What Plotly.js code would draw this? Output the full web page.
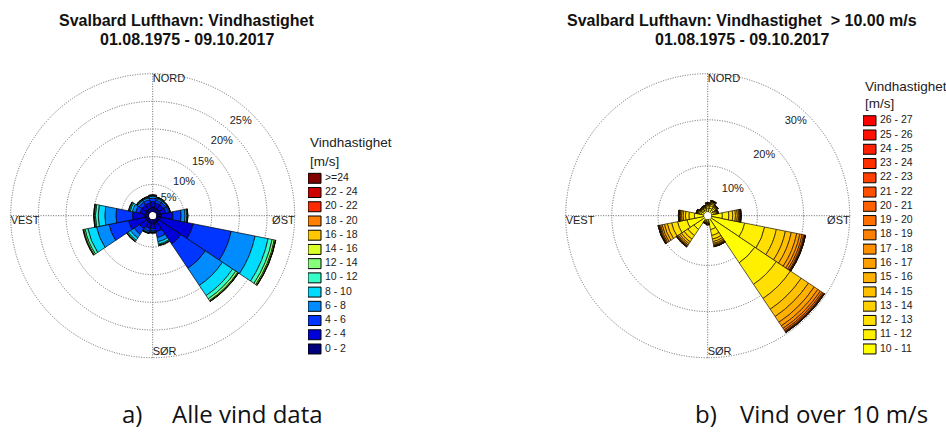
<!DOCTYPE html>
<html><head><meta charset="utf-8">
<script src="https://cdn.plot.ly/plotly-3.0.1.min.js"></script>
<style>html,body{margin:0;padding:0;background:#fff;} #chart{width:946px;height:434px;}</style>
</head><body><div id="chart"></div>
<script>
// ---------- shared ----------
const directions = ['N','NNE','NE','ENE','E','ESE','SE','SSE','S','SSW','SW','WSW','W','WNW','NW','NNW'];
const theta = [0,22.5,45,67.5,90,112.5,135,157.5,180,202.5,225,247.5,270,292.5,315,337.5];
const compassLabels = ['NORD','ØST','SØR','VEST'];
const compassTheta = [0,90,180,270];

// ---------- chart a: all wind (percent per direction, per speed class) ----------
const classesA = ['0 - 2','2 - 4','4 - 6','6 - 8','8 - 10','10 - 12','12 - 14','14 - 16','16 - 18','18 - 20','20 - 22','22 - 24','>=24'];
const colorsA  = ['#00007f','#0000d8','#0036ff','#008cff','#00dcff','#36ffc8','#86ff7a','#d8ff28','#ffc800','#ff8000','#ff2a00','#cc0000','#7f0000'];
const A_0_2   = [0.9,0.8,0.8,0.8,0.8,0.8,0.7,0.8,0.9,0.8,0.8,0.8,0.8,0.7,0.8,0.8];
const A_2_4   = [1.0,0.9,0.9,1.0,2.2,6.0,4.8,1.5,0.8,0.9,1.4,3.0,2.2,1.0,0.9,0.9];
const A_4_6   = [0.6,0.5,0.5,0.5,1.5,7.0,5.3,1.1,0.4,0.5,1.2,3.6,3.0,0.8,0.6,0.6];
const A_6_8   = [0.35,0.3,0.25,0.2,0.7,4.4,3.7,0.75,0.2,0.25,0.8,2.3,2.0,0.6,0.35,0.35];
const A_8_10  = [0.15,0.15,0.1,0.07,0.3,2.4,2.2,0.45,0.1,0.1,0.5,1.6,1.2,0.4,0.15,0.15];
const A_10_12 = [0.06,0.08,0.04,0.03,0.15,0.75,0.7,0.18,0.05,0.04,0.2,0.5,0.5,0.2,0.07,0.07];
const A_12_14 = [0.03,0.04,0.02,0.01,0.05,0.4,0.4,0.08,0.02,0.02,0.1,0.25,0.2,0.1,0.03,0.03];
const A_14_16 = [0.01,0.02,0.01,0,0.02,0.2,0.15,0.02,0.01,0.01,0.03,0.12,0.1,0.03,0.01,0.01];
const A_16_18 = [0,0,0,0,0,0.05,0.05,0,0,0,0,0.03,0.02,0,0,0];
const A_18_20 = [0,0,0,0,0,0.01,0.01,0,0,0,0,0,0,0,0,0];
const A_20_22 = [0,0,0,0,0,0,0,0,0,0,0,0,0,0,0,0];
const A_22_24 = [0,0,0,0,0,0,0,0,0,0,0,0,0,0,0,0];
const A_24up  = [0,0,0,0,0,0,0,0,0,0,0,0,0,0,0,0];
const seriesA = [A_0_2,A_2_4,A_4_6,A_6_8,A_8_10,A_10_12,A_12_14,A_14_16,A_16_18,A_18_20,A_20_22,A_22_24,A_24up];
const ringTicksA = [5,10,15,20,25];
const ringLabelsA = ['5%','10%','15%','20%','25%'];

// ---------- chart b: wind over 10 m/s ----------
const classesB = ['10 - 11','11 - 12','12 - 13','13 - 14','14 - 15','15 - 16','16 - 17','17 - 18','18 - 19','19 - 20','20 - 21','21 - 22','22 - 23','23 - 24','24 - 25','25 - 26','26 - 27'];
const colorsB  = ['#ffff00','#fff000','#ffe000','#ffd000','#ffc000','#ffb000','#ffa000','#ff9000','#ff8000','#ff7000','#ff6000','#ff5000','#ff4000','#ff3000','#ff2000','#ff1000','#ff0000'];
const B_10_11 = [0.75,0.9,0.7,0.6,2.4,7.4,11.5,2.3,0.45,0.4,2.8,3.8,2.1,0.65,0.5,0.55];
const B_11_12 = [0.42,0.55,0.42,0.35,1.4,4.4,5.6,1.3,0.26,0.22,1.6,2.1,1.2,0.38,0.3,0.32];
const B_12_13 = [0.27,0.35,0.28,0.22,0.85,2.6,3.7,0.8,0.16,0.13,0.95,1.3,0.75,0.25,0.19,0.2];
const B_13_14 = [0.19,0.25,0.2,0.15,0.6,2.0,2.8,0.55,0.11,0.09,0.7,0.95,0.5,0.17,0.13,0.14];
const B_14_15 = [0.13,0.18,0.14,0.1,0.4,1.3,1.9,0.4,0.08,0.06,0.45,0.65,0.35,0.12,0.1,0.1];
const B_15_16 = [0.1,0.13,0.1,0.07,0.3,1.2,1.5,0.28,0.06,0.04,0.35,0.5,0.25,0.09,0.07,0.07];
const B_16_17 = [0.06,0.09,0.07,0.05,0.2,0.7,0.95,0.18,0.04,0.03,0.22,0.35,0.17,0.06,0.05,0.05];
const B_17_18 = [0.04,0.06,0.04,0.03,0.13,0.5,0.65,0.12,0.02,0.02,0.14,0.24,0.11,0.04,0.03,0.03];
const B_18_19 = [0.02,0.04,0.02,0.02,0.09,0.35,0.45,0.07,0.01,0.01,0.09,0.14,0.07,0.02,0.02,0.02];
const B_19_20 = [0.01,0.02,0.02,0.01,0.06,0.2,0.3,0.05,0.01,0,0.05,0.09,0.05,0.01,0.01,0.01];
const B_20_21 = [0.01,0.02,0.01,0,0.04,0.1,0.17,0.03,0,0,0.03,0.05,0.03,0.01,0,0.01];
const B_21_22 = [0,0.01,0,0,0.02,0.05,0.1,0.02,0,0,0.02,0.02,0.02,0,0,0];
const B_22_23 = [0,0,0,0,0.01,0.03,0.05,0,0,0,0,0.01,0,0,0,0];
const B_23_24 = [0,0,0,0,0,0.01,0.02,0,0,0,0,0,0,0,0,0];
const B_24_25 = [0,0,0,0,0,0.01,0.01,0,0,0,0,0,0,0,0,0];
const B_25_26 = [0,0,0,0,0,0,0,0,0,0,0,0,0,0,0,0];
const B_26_27 = [0,0,0,0,0,0,0,0,0,0,0,0,0,0,0,0];
const seriesB = [B_10_11,B_11_12,B_12_13,B_13_14,B_14_15,B_15_16,B_16_17,B_17_18,B_18_19,B_19_20,B_20_21,B_21_22,B_22_23,B_23_24,B_24_25,B_25_26,B_26_27];
const ringTicksB = [10,20,30];
const ringLabelsB = ['10%','20%','30%'];

// ---------- build ----------
const FONT = 'Liberation Sans, Arial, sans-serif';
const W = 946, H = 434;
const px = x => x / W, py = y => (H - y) / H;
const RANGE_PAD = 1.012;      // lets the outermost ring be drawn as a grid circle
const R_OUT = 143.7;          // plot radius in px (outermost ring lands at ~142 px)

const traces = [];
function ringLabelTrace(sub, ticks, labels, offset) {
  return {type:'scatterpolar', subplot:sub, mode:'text', r: ticks.map((v, i) => v - (i === 0 && ticks.length > 3 ? offset * 0.6 : offset)),
    theta: ticks.map(() => 43), text: labels, textposition:'middle center',
    textfont:{family:FONT, size:11, color:'#222'}, cliponaxis:false, showlegend:false, hoverinfo:'skip'};
}
function compassTrace(sub, rmax) {
  return {type:'scatterpolar', subplot:sub, mode:'text', r: compassTheta.map(() => rmax),
    theta: compassTheta, text: compassLabels,
    textposition:['bottom right','bottom left','top right','bottom right'],
    textfont:{family:FONT, size:11, color:'#222'}, cliponaxis:false, showlegend:false, hoverinfo:'skip'};
}
traces.push(ringLabelTrace('polar', ringTicksA, ringLabelsA, 2.35));
traces.push(ringLabelTrace('polar2', ringTicksB, ringLabelsB, 2.8));
seriesA.forEach((s, i) => traces.push({type:'barpolar', subplot:'polar', r:s, theta:theta, name:classesA[i],
  marker:{color:colorsA[i], line:{color:'#000', width:0.7}}, showlegend:false}));
seriesB.forEach((s, i) => traces.push({type:'barpolar', subplot:'polar2', r:s, theta:theta, name:classesB[i],
  marker:{color:colorsB[i], line:{color:'#1a1000', width:0.7}}, showlegend:false}));
traces.push(compassTrace('polar', 25));
traces.push(compassTrace('polar2', 30));

// custom compact legends (swatches + labels)
traces.push({type:'bar', orientation:'h', xaxis:'x', yaxis:'y', y:classesA, x:classesA.map(() => 1), width:0.7,
  marker:{color:colorsA, line:{color:'#000', width:1}}, showlegend:false, hoverinfo:'skip'});
traces.push({type:'scatter', mode:'text', xaxis:'x', yaxis:'y', y:classesA, x:classesA.map(() => 1.3), text:classesA,
  textposition:'middle right', textfont:{family:FONT, size:10.5, color:'#222'}, cliponaxis:false, showlegend:false, hoverinfo:'skip'});
traces.push({type:'bar', orientation:'h', xaxis:'x2', yaxis:'y2', y:classesB, x:classesB.map(() => 1), width:0.7,
  marker:{color:colorsB, line:{color:'#000', width:1}}, showlegend:false, hoverinfo:'skip'});
traces.push({type:'scatter', mode:'text', xaxis:'x2', yaxis:'y2', y:classesB, x:classesB.map(() => 1.3), text:classesB,
  textposition:'middle right', textfont:{family:FONT, size:10.5, color:'#222'}, cliponaxis:false, showlegend:false, hoverinfo:'skip'});

const gridStyle = {gridcolor:'#666', gridwidth:1, griddash:'1px,1.5px'};
function polarLayout(cx, rmax, ticks) {
  const cy = 215.7;
  return {
    domain:{x:[px(cx - R_OUT), px(cx + R_OUT)], y:[py(cy + R_OUT), py(cy - R_OUT)]},
    hole:0.025, bgcolor:'#fff', barmode:'stack', bargap:0,
    radialaxis:Object.assign({range:[0, rmax * RANGE_PAD], tickvals:ticks, showticklabels:false, ticks:'', showline:false, layer:'below traces'}, gridStyle),
    angularaxis:Object.assign({rotation:90, direction:'clockwise', tickvals:[0,90,180,270], showticklabels:false, ticks:'', showline:false, layer:'below traces'}, gridStyle)
  };
}
const hiddenAxis = {visible:false, fixedrange:true, showgrid:false, zeroline:false};

const titleFont = {family:FONT, size:16, color:'#111', weight:'bold'};
const annotations = [
  {text:'Svalbard Lufthavn: Vindhastighet', x:px(187), y:py(20)},
  {text:'01.08.1975 - 09.10.2017', x:px(187), y:py(39.5)},
  {text:'Svalbard Lufthavn: Vindhastighet  &gt; 10.00 m/s', x:px(742), y:py(20)},
  {text:'01.08.1975 - 09.10.2017', x:px(742), y:py(39.5)}
].map(a => Object.assign({xref:'paper', yref:'paper', xanchor:'center', yanchor:'middle', showarrow:false, font:titleFont}, a));
const legTitleFont = {family:FONT, size:13.5, color:'#222'};
[[308,143,'Vindhastighet'],[308,161,'[m/s]'],[863,87,'Vindhastighet'],[863,103.5,'[m/s]']].forEach(([x,y,t]) =>
  annotations.push({text:t, x:px(x), y:py(y), xref:'paper', yref:'paper', xanchor:'left', yanchor:'middle', showarrow:false, font:legTitleFont}));
const capFont = {family:'Open Sans, sans-serif', size:24, color:'#111'};
[[120,'a)'],[170,'Alle vind data'],[693,'b)'],[738,'Vind over 10 m/s']].forEach(([x,t]) =>
  annotations.push({text:t, x:px(x), y:py(413), xref:'paper', yref:'paper', xanchor:'left', yanchor:'middle', showarrow:false, font:capFont}));

const layout = {
  width:W, height:H, margin:{l:0,r:0,t:0,b:0}, paper_bgcolor:'#fff', plot_bgcolor:'rgba(0,0,0,0)',
  showlegend:false, font:{family:FONT},
  polar: polarLayout(152.7, 25, ringTicksA),
  polar2: polarLayout(707.7, 30, ringTicksB),
  xaxis: Object.assign({domain:[px(308), px(399)], range:[0,7]}, hiddenAxis),
  yaxis: Object.assign({domain:[py(356.1), py(171.2)], range:[-0.5,12.5], type:'category'}, hiddenAxis),
  xaxis2: Object.assign({domain:[px(863), px(946)], range:[0,83/13], anchor:'y2'}, hiddenAxis),
  yaxis2: Object.assign({domain:[py(356.1), py(113.6)], range:[-0.5,16.5], type:'category', anchor:'x2'}, hiddenAxis),
  annotations: annotations
};
Plotly.newPlot('chart', traces, layout, {staticPlot:true, displayModeBar:false});
</script></body></html>
